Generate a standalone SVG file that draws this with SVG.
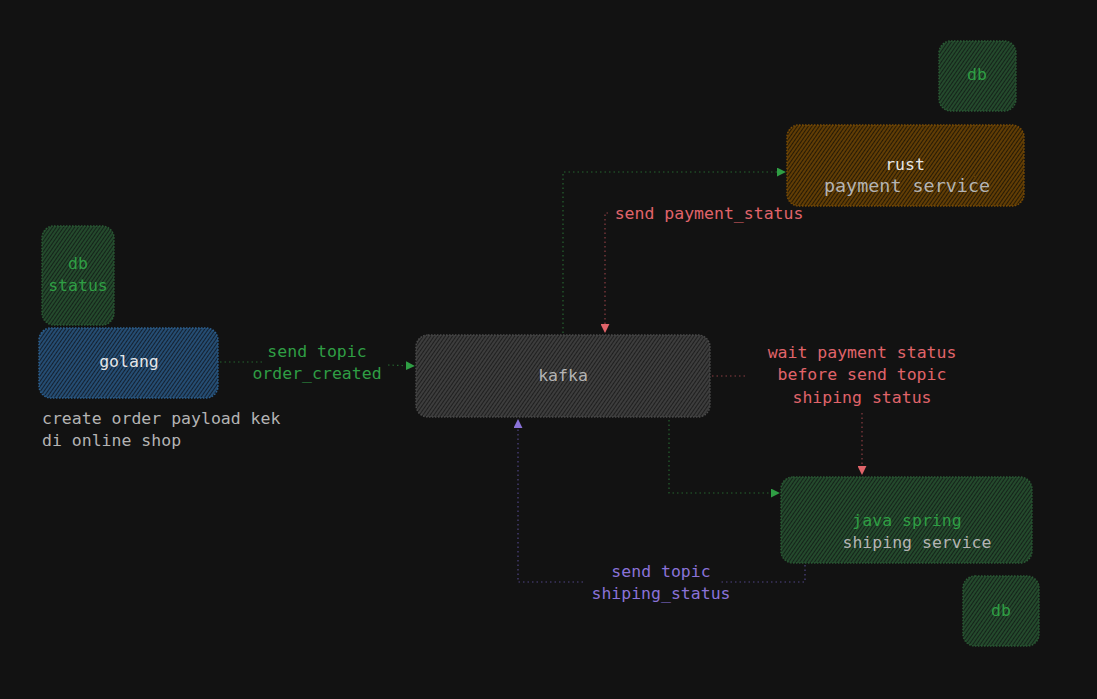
<svg xmlns="http://www.w3.org/2000/svg" width="1097" height="699" viewBox="0 0 1097 699">
<defs>
<pattern id="hb" width="3" height="10" patternUnits="userSpaceOnUse" patternTransform="rotate(35)"><rect width="3" height="10" fill="#142130"/><line x1="1" y1="0" x2="1" y2="10" stroke="#2c6090" stroke-width="1.4"/></pattern>
<pattern id="ho" width="3" height="10" patternUnits="userSpaceOnUse" patternTransform="rotate(35)"><rect width="3" height="10" fill="#261a05"/><line x1="1" y1="0" x2="1" y2="10" stroke="#7a4c05" stroke-width="1.4"/></pattern>
<pattern id="hg" width="3" height="10" patternUnits="userSpaceOnUse" patternTransform="rotate(35)"><rect width="3" height="10" fill="#15231a"/><line x1="1" y1="0" x2="1" y2="10" stroke="#2a5a34" stroke-width="1.4"/></pattern>
<pattern id="hk" width="3" height="10" patternUnits="userSpaceOnUse" patternTransform="rotate(35)"><rect width="3" height="10" fill="#1f1f1f"/><line x1="1" y1="0" x2="1" y2="10" stroke="#4a4a4a" stroke-width="1.4"/></pattern>
<marker id="ag" viewBox="0 0 10 10" refX="9" refY="5" markerWidth="9" markerHeight="9" markerUnits="userSpaceOnUse" orient="auto"><path d="M0,0 L10,5 L0,10 z" fill="#2f9e44"/></marker>
<marker id="ar" viewBox="0 0 10 10" refX="9" refY="5" markerWidth="9" markerHeight="9" markerUnits="userSpaceOnUse" orient="auto"><path d="M0,0 L10,5 L0,10 z" fill="#e0646a"/></marker>
<marker id="ap" viewBox="0 0 10 10" refX="9" refY="5" markerWidth="9" markerHeight="9" markerUnits="userSpaceOnUse" orient="auto"><path d="M0,0 L10,5 L0,10 z" fill="#8a72d8"/></marker>
</defs>
<style>
text{font-family:"DejaVu Sans Mono","Liberation Mono",monospace;font-size:16.5px;text-anchor:middle}
.node{stroke-width:1.5;stroke-dasharray:1.5 1.5}
.c{fill:none;stroke-width:1.2;stroke-dasharray:1.5 3}
.cg{stroke:#25632f}.cr{stroke:#8a3c42}.cp{stroke:#4f4484}
.g{fill:#2f9e44}.r{fill:#e0646a}.p{fill:#8a72d8}.w{fill:#e6e6e6}.s{fill:#b4b4b4}
</style>
<rect width="1097" height="699" fill="#121212"/>
<g id="connectors">
<path class="c cg" d="M220,362 L262,362"/>
<path class="c cg" d="M388,365 L414,366" marker-end="url(#ag)"/>
<path class="c cg" d="M563,333 L563,172 L785,172" marker-end="url(#ag)"/>
<path class="c cr" d="M608,213 L605,213 L605,332" marker-end="url(#ar)"/>
<path class="c cr" d="M712,376 L748,376"/>
<path class="c cr" d="M862,413 L862,474" marker-end="url(#ar)"/>
<path class="c cg" d="M669,420 L669,493 L779,493" marker-end="url(#ag)"/>
<path class="c cp" d="M805,565 L805,582 L721,582"/>
<path class="c cp" d="M583,582 L518,582 L518,420" marker-end="url(#ap)"/>
<text class="g" x="317" y="357">send topic</text>
<text class="g" x="317" y="379">order_created</text>
<text class="r" x="709" y="219">send payment_status</text>
<text class="r" x="862" y="358">wait payment status</text>
<text class="r" x="862" y="380">before send topic</text>
<text class="r" x="862" y="403">shiping status</text>
<text class="p" x="661" y="577">send topic</text>
<text class="p" x="661" y="599">shiping_status</text>
</g>
<g id="db-status"><rect class="node" x="42" y="226" width="72" height="99" rx="12" fill="url(#hg)" stroke="#2a5a34"/><text class="g" x="78" y="269">db</text><text class="g" x="78" y="291">status</text></g>
<g id="golang"><rect class="node" x="39" y="328" width="179" height="70" rx="12" fill="url(#hb)" stroke="#2c6090"/><text class="w" x="129" y="367">golang</text></g>
<g id="note"><text class="s" x="42" y="424" style="text-anchor:start">create order payload kek</text><text class="s" x="42" y="446" style="text-anchor:start">di online shop</text></g>
<g id="kafka"><rect class="node" x="416" y="335" width="294" height="82" rx="12" fill="url(#hk)" stroke="#4a4a4a"/><text class="s" x="563" y="381">kafka</text></g>
<g id="db-payment"><rect class="node" x="939" y="41" width="77" height="70" rx="12" fill="url(#hg)" stroke="#2a5a34"/><text class="g" x="977" y="80">db</text></g>
<g id="rust"><rect class="node" x="787" y="125" width="237" height="81" rx="12" fill="url(#ho)" stroke="#7a4c05"/><text class="w" x="905" y="170">rust</text><text class="s" x="907" y="192" style="font-size:18.4px">payment service</text></g>
<g id="java"><rect class="node" x="781" y="477" width="251" height="86" rx="12" fill="url(#hg)" stroke="#2a5a34"/><text class="g" x="907" y="526">java spring</text><text class="s" x="917" y="548">shiping service</text></g>
<g id="db-shipping"><rect class="node" x="963" y="576" width="76" height="70" rx="12" fill="url(#hg)" stroke="#2a5a34"/><text class="g" x="1001" y="616">db</text></g>
</svg>
